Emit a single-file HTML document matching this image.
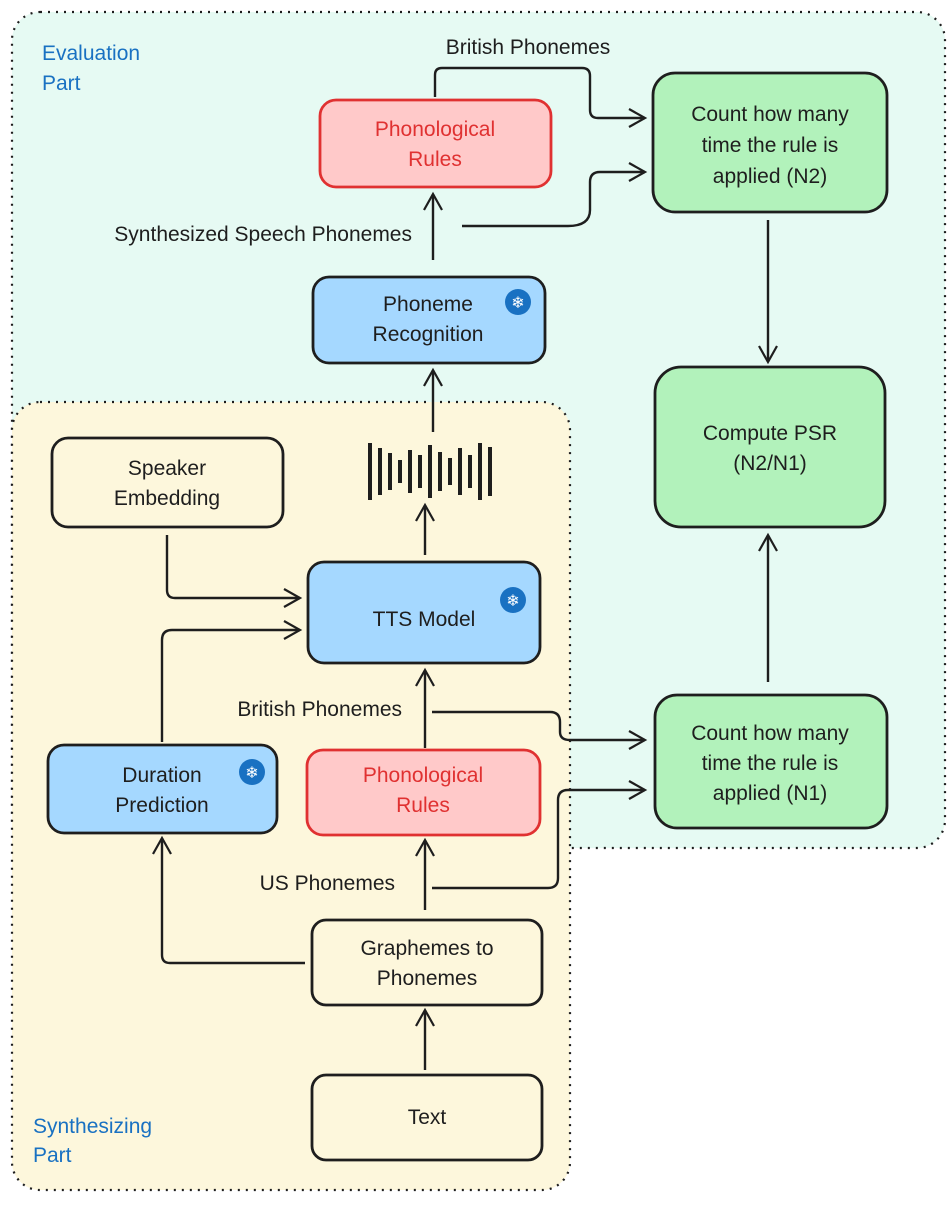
<!DOCTYPE html>
<html><head><meta charset="utf-8"><style>
body{margin:0;background:#fff}
svg text{font-family:"Liberation Sans",sans-serif;font-size:21px}
</style></head><body>
<svg width="950" height="1200" viewBox="0 0 950 1200" xmlns="http://www.w3.org/2000/svg">
<defs>
<marker id="a" markerWidth="22" markerHeight="22" refX="18" refY="11" orient="auto" markerUnits="userSpaceOnUse">
<path d="M2,2 L18,11 L2,20" fill="none" stroke="#1e1e1e" stroke-width="2.2"/>
</marker>
</defs>
<rect x="12" y="12" width="933" height="836" rx="28" fill="#e6faf3" stroke="#1e1e1e" stroke-width="2.2" stroke-dasharray="2 6"/>
<rect x="12" y="402" width="558" height="788" rx="28" fill="#fdf7dc" stroke="#1e1e1e" stroke-width="2.2" stroke-dasharray="2 6"/>
<text x="42" y="60" fill="#1971c2">Evaluation</text>
<text x="42" y="90" fill="#1971c2">Part</text>
<text x="33" y="1133" fill="#1971c2">Synthesizing</text>
<text x="33" y="1162" fill="#1971c2">Part</text>

<g stroke="#1e1e1e" stroke-width="2.8">
<rect x="320" y="100" width="231" height="87" rx="16" fill="#ffc9c9" stroke="#e03131"/>
<rect x="653" y="73" width="234" height="139" rx="22" fill="#b2f2bb"/>
<rect x="313" y="277" width="232" height="86" rx="16" fill="#a5d8ff"/>
<rect x="655" y="367" width="230" height="160" rx="26" fill="#b2f2bb"/>
<rect x="52" y="438" width="231" height="89" rx="16" fill="none"/>
<rect x="308" y="562" width="232" height="101" rx="16" fill="#a5d8ff"/>
<rect x="48" y="745" width="229" height="88" rx="16" fill="#a5d8ff"/>
<rect x="307" y="750" width="233" height="85" rx="16" fill="#ffc9c9" stroke="#e03131"/>
<rect x="655" y="695" width="232" height="133" rx="22" fill="#b2f2bb"/>
<rect x="312" y="920" width="230" height="85" rx="14" fill="none"/>
<rect x="312" y="1075" width="230" height="85" rx="14" fill="none"/>
</g>

<g fill="#1971c2"><circle cx="518" cy="302" r="13"/><circle cx="513" cy="600" r="13"/><circle cx="252" cy="772" r="13"/></g>
<g text-anchor="middle"><text x="518" y="308" style="font-size:16px" fill="#fff">❄</text><text x="513" y="606" style="font-size:16px" fill="#fff">❄</text><text x="252" y="778" style="font-size:16px" fill="#fff">❄</text></g>

<g stroke="#1e1e1e" stroke-width="4">
<line x1="370" y1="443" x2="370" y2="500"/><line x1="380" y1="448" x2="380" y2="495"/><line x1="390" y1="453" x2="390" y2="490"/><line x1="400" y1="460" x2="400" y2="483"/><line x1="410" y1="450" x2="410" y2="493"/><line x1="420" y1="455" x2="420" y2="488"/><line x1="430" y1="445" x2="430" y2="498"/><line x1="440" y1="452" x2="440" y2="491"/><line x1="450" y1="458" x2="450" y2="485"/><line x1="460" y1="448" x2="460" y2="495"/><line x1="470" y1="455" x2="470" y2="488"/><line x1="480" y1="443" x2="480" y2="500"/><line x1="490" y1="447" x2="490" y2="496"/>
</g>

<g fill="none" stroke="#1e1e1e" stroke-width="2.4" marker-end="url(#a)">
<path d="M435,97 V75 Q435,68 442,68 H582 Q590,68 590,76 V110 Q590,118 598,118 H645"/>
<path d="M462,226 H568 Q590,226 590,210 V182 Q590,172 600,172 H645"/>
<path d="M433,260 V194"/>
<path d="M433,432 V370"/>
<path d="M768,220 V362"/>
<path d="M768,682 V535"/>
<path d="M425,555 V505"/>
<path d="M167,535 V590 Q167,598 175,598 H300"/>
<path d="M162,742 V640 Q162,630 172,630 H300"/>
<path d="M425,748 V670"/>
<path d="M432,712 H550 Q560,712 560,722 V732 Q560,740 570,740 H645"/>
<path d="M425,910 V840"/>
<path d="M432,888 H548 Q558,888 558,878 V800 Q558,790 568,790 H645"/>
<path d="M305,963 H170 Q162,963 162,955 V838"/>
<path d="M425,1070 V1010"/>
</g>

<g fill="#1e1e1e" text-anchor="middle">
<text x="528" y="54">British Phonemes</text>
<text x="435" y="136" fill="#e03131">Phonological</text><text x="435" y="166" fill="#e03131">Rules</text>
<text x="770" y="121">Count how many</text><text x="770" y="152">time the rule is</text><text x="770" y="183">applied (N2)</text>
<text x="412" y="241" text-anchor="end">Synthesized Speech Phonemes</text>
<text x="428" y="311">Phoneme</text><text x="428" y="341">Recognition</text>
<text x="770" y="440">Compute PSR</text><text x="770" y="470">(N2/N1)</text>
<text x="167" y="475">Speaker</text><text x="167" y="505">Embedding</text>
<text x="424" y="626">TTS Model</text>
<text x="402" y="716" text-anchor="end">British Phonemes</text>
<text x="162" y="782">Duration</text><text x="162" y="812">Prediction</text>
<text x="423" y="782" fill="#e03131">Phonological</text><text x="423" y="812" fill="#e03131">Rules</text>
<text x="770" y="740">Count how many</text><text x="770" y="770">time the rule is</text><text x="770" y="800">applied (N1)</text>
<text x="395" y="890" text-anchor="end">US Phonemes</text>
<text x="427" y="955">Graphemes to</text><text x="427" y="985">Phonemes</text>
<text x="427" y="1124">Text</text>
</g>
</svg>
</body></html>
